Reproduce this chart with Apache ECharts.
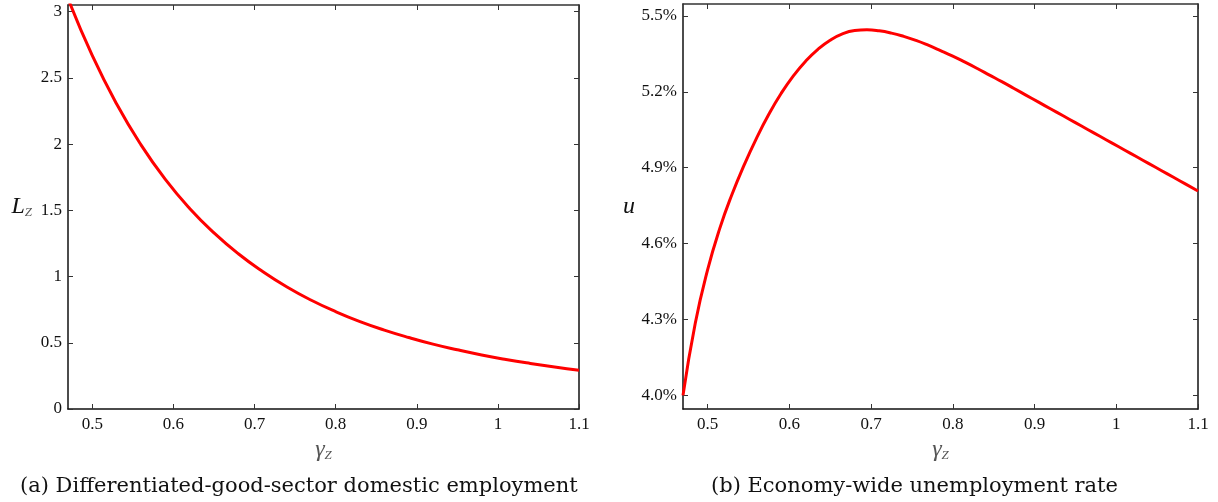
<!DOCTYPE html>
<html>
<head>
<meta charset="utf-8">
<script src="https://cdn.jsdelivr.net/npm/echarts@6/dist/echarts.min.js"></script>
<style>
  html, body { margin: 0; padding: 0; background: #fff; }
  #chart { width: 1218px; height: 502px; }
</style>
</head>
<body>
<div id="chart"></div>
<script>
// Panel (a): differentiated-good-sector domestic employment L_Z against gamma_Z
const gammaA = [0.47, 0.50, 0.53, 0.56, 0.59, 0.62, 0.65, 0.68, 0.71, 0.74, 0.77, 0.80, 0.83, 0.86, 0.89, 0.92, 0.95, 0.98, 1.01, 1.04, 1.07, 1.10];
const employment = [3.099, 2.667, 2.302, 1.994, 1.733, 1.514, 1.330, 1.172, 1.038, 0.921, 0.821, 0.735, 0.660, 0.596, 0.540, 0.490, 0.447, 0.408, 0.374, 0.344, 0.317, 0.293];

// Panel (b): economy-wide unemployment rate u (percent) against gamma_Z
const gammaB = [0.470, 0.485, 0.500, 0.515, 0.530, 0.545, 0.560, 0.575, 0.590, 0.605, 0.620, 0.635, 0.650, 0.665, 0.680, 0.695,
                0.710, 0.725, 0.740, 0.755, 0.770, 0.785, 0.800, 0.815, 0.830, 0.845, 0.860, 0.875, 0.890, 0.905, 0.920, 0.935,
                0.950, 0.965, 0.980, 0.995, 1.010, 1.025, 1.040, 1.055, 1.070, 1.085, 1.100];
const unemployment = [4.000, 4.285, 4.495, 4.660, 4.795, 4.912, 5.017, 5.111, 5.193, 5.263, 5.321, 5.368, 5.404, 5.429, 5.442, 5.445,
                      5.441, 5.432, 5.419, 5.403, 5.384, 5.363, 5.341, 5.317, 5.292, 5.266, 5.240, 5.213, 5.186, 5.159, 5.132, 5.105,
                      5.078, 5.051, 5.024, 4.997, 4.970, 4.943, 4.916, 4.889, 4.862, 4.835, 4.808];

// Tick values
const xTicks = [0.5, 0.6, 0.7, 0.8, 0.9, 1.0, 1.1];
const yTicksA = [0, 0.5, 1, 1.5, 2, 2.5, 3];
const yTicksB = [4.0, 4.3, 4.6, 4.9, 5.2, 5.5];

// Captions
const captionA = '(a) Differentiated-good-sector domestic employment';
const captionB = '(b) Economy-wide unemployment rate';

const SERIF = '"Liberation Serif", "DejaVu Serif", serif';
const WIDE_SERIF = '"DejaVu Serif", "Liberation Serif", serif';
const FS = 17;

const pair = (xs, ys) => xs.map((x, i) => [x, ys[i]]);

function xAxisFor(gridIndex, top) {
  return {
    type: 'value', gridIndex: gridIndex, position: top ? 'top' : 'bottom',
    min: 0.47, max: 1.1,
    axisLine: { show: true, onZero: false, lineStyle: { color: top ? '#333' : '#111', width: 1.5 } },
    axisTick: { show: true, inside: true, length: 5, lineStyle: { color: '#333', width: 1 }, customValues: xTicks },
    axisLabel: {
      show: !top, customValues: xTicks, margin: 7,
      fontFamily: SERIF, fontSize: FS, color: '#111',
      formatter: v => String(Math.round(v * 10) / 10)
    },
    splitLine: { show: false },
    name: top ? '' : '{g|γ}{s|Z}',
    nameLocation: 'middle', nameGap: 15,
    nameTextStyle: {
      rich: {
        g: { fontFamily: SERIF, fontStyle: 'italic', fontSize: 24, color: '#555' },
        s: { fontFamily: SERIF, fontStyle: 'italic', fontSize: 13, color: '#555', verticalAlign: 'bottom', padding: [10, 0, 0, 0] }
      }
    }
  };
}

function yAxisFor(gridIndex, right, min, max, ticks, fmt, name, nameRich, gap) {
  return {
    type: 'value', gridIndex: gridIndex, position: right ? 'right' : 'left',
    min: min, max: max,
    axisLine: { show: true, onZero: false, lineStyle: { color: '#111', width: 1.5 } },
    axisTick: { show: true, inside: true, length: 5, lineStyle: { color: '#333', width: 1 }, customValues: ticks },
    axisLabel: {
      show: !right, customValues: ticks, margin: 6,
      fontFamily: SERIF, fontSize: FS, color: '#111', formatter: fmt
    },
    splitLine: { show: false },
    name: right ? '' : name,
    nameLocation: 'middle', nameRotate: 0, nameGap: gap,
    nameTextStyle: { rich: nameRich }
  };
}

const chart = echarts.init(document.getElementById('chart'), null, { renderer: 'canvas' });

chart.setOption({
  animation: false,
  backgroundColor: '#fff',
  grid: [
    { left: 68, top: 5, width: 511, height: 404 },
    { left: 683, top: 4, width: 515, height: 405 }
  ],
  xAxis: [
    xAxisFor(0, false), xAxisFor(0, true),
    xAxisFor(1, false), xAxisFor(1, true)
  ],
  yAxis: [
    yAxisFor(0, false, 0, 3.05, yTicksA, v => String(v), '{l|L}{s|Z}', {
      l: { fontFamily: SERIF, fontStyle: 'italic', fontSize: 24, color: '#111' },
      s: { fontFamily: SERIF, fontStyle: 'italic', fontSize: 13, color: '#555', verticalAlign: 'bottom', padding: [11, 0, 0, 0] }
    }, 36),
    yAxisFor(0, true, 0, 3.05, yTicksA, v => String(v), '', {}, 0),
    yAxisFor(1, false, 3.946, 5.547, yTicksB, v => v.toFixed(1) + '%', '{u|u}', {
      u: { fontFamily: SERIF, fontStyle: 'italic', fontSize: 24, color: '#111' }
    }, 48),
    yAxisFor(1, true, 3.946, 5.547, yTicksB, v => v.toFixed(1) + '%', '', {}, 0)
  ],
  series: [
    {
      type: 'line', xAxisIndex: 0, yAxisIndex: 0,
      data: pair(gammaA, employment),
      smooth: 0.5, showSymbol: false, clip: true,
      lineStyle: { color: '#ff0000', width: 3 }
    },
    {
      type: 'line', xAxisIndex: 2, yAxisIndex: 2,
      data: pair(gammaB, unemployment),
      smooth: 0.5, showSymbol: false, clip: true,
      lineStyle: { color: '#ff0000', width: 3 }
    }
  ],
  graphic: [
    {
      type: 'text', left: 20, top: 476,
      style: { text: captionA, fontFamily: WIDE_SERIF, fontSize: 21, fill: '#111' }
    },
    {
      type: 'text', left: 711, top: 476,
      style: { text: captionB, fontFamily: WIDE_SERIF, fontSize: 21, fill: '#111' }
    }
  ]
});
</script>
</body>
</html>
